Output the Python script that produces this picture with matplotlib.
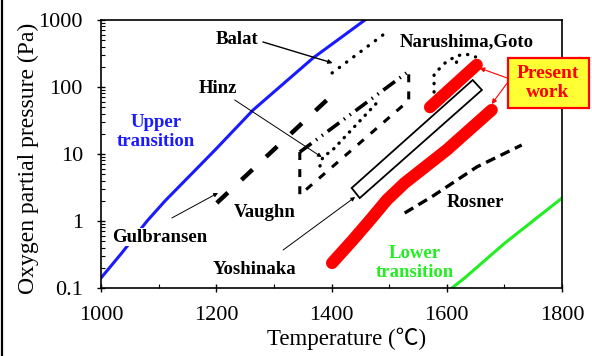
import numpy as np
import matplotlib
matplotlib.use("Agg")
import matplotlib.pyplot as plt
from matplotlib.patches import Polygon, Rectangle
from matplotlib.lines import Line2D
from matplotlib.ticker import FixedLocator, FixedFormatter, LogLocator, NullFormatter, MultipleLocator

FONT = ['Liberation Serif', 'Noto Sans CJK JP', 'DejaVu Sans']
plt.rcParams['font.family'] = FONT

# ---------------- data ----------------
x_ticks = [1000, 1200, 1400, 1600, 1800]
x_tick_labels = ['1000', '1200', '1400', '1600', '1800']
y_ticks = [0.1, 1, 10, 100, 1000]
y_tick_labels = ['0.1', '1', '10', '100', '1000']

upper_T = [1000, 1036, 1080, 1111, 1198, 1264, 1368, 1432, 1458, 1475]
upper_P = [0.141, 0.333, 1.0, 1.99, 11.5, 45.4, 271, 685, 1000, 1259]

lower_T = [1605, 1631, 1701, 1800]
lower_P = [0.094, 0.141, 0.47, 2.2]

present_low_T = [1401, 1437, 1467, 1496, 1527, 1600, 1678]
present_low_P = [0.236, 0.52, 1.035, 2.06, 3.69, 11.5, 45.4]

present_high_T = [1571, 1652]
present_high_P = [50, 214]

yoshinaka_T = [1435, 1645, 1661, 1449]
yoshinaka_P = [3.11, 127, 90.2, 2.2]

narushima_T = [1578, 1578, 1597, 1616, 1633, 1650]
narushima_P = [84.1, 156, 228, 290, 311, 281]
narushima2_T = [1617, 1614]
narushima2_P = [236, 179]

balat_T = [1401, 1496]
balat_P = [162, 661]

hinz_T = [1380, 1385, 1402, 1480]
hinz_P = [6.62, 9.0, 11.5, 59.7]

gulbransen_T = [1201, 1392]
gulbransen_P = [1.86, 64]

vaughn_T = [1345, 1345, 1531, 1534, 1534]
vaughn_P = [10.7, 2.44, 59.7, 64, 162]
vaughn_top_T = [1345, 1530]
vaughn_top_P = [10.7, 162]

rosner_T = [1527, 1576, 1652, 1730]
rosner_P = [1.315, 2.36, 6.4, 13.6]

# ---------------- figure ----------------
fig = plt.figure(figsize=(5.92, 3.56), dpi=100)
ax = fig.add_axes([101/592, 1-288/356, 461/592, 268/356])
ax.set_yscale('log')
ax.set_xlim(1000, 1800)
ax.set_ylim(0.1, 1000)

ax.plot(upper_T, upper_P, color='#1a1aff', lw=2.2, solid_joinstyle='round', zorder=2)
ax.plot(lower_T, lower_P, color='#22ee22', lw=2.2, solid_joinstyle='round', zorder=2)

ax.plot(gulbransen_T, gulbransen_P, color='black', lw=3.2,
        linestyle=(0, (3.4, 4.2)), dash_capstyle='butt', zorder=3)
ax.plot(vaughn_T, vaughn_P, color='black', lw=2.2,
        linestyle=(0, (2.6, 3.0)), zorder=3)
ax.plot(vaughn_top_T, vaughn_top_P, color='black', lw=2.6,
        linestyle=(0, (4.0, 1.6, 0.4, 1.6, 0.4, 1.6)), zorder=3)
ax.plot(hinz_T, hinz_P, color='black', lw=2.4, linestyle=(0, (0.1, 2.2)),
        dash_capstyle='round', zorder=3)
ax.plot(balat_T, balat_P, color='black', lw=2.4, linestyle=(0, (0.1, 2.6)),
        dash_capstyle='round', zorder=3)
ax.plot(narushima_T, narushima_P, color='black', lw=2.4, linestyle=(0, (0.1, 2.4)),
        dash_capstyle='round', zorder=3)
ax.plot(narushima2_T, narushima2_P, color='black', lw=2.4, linestyle=(0, (0.1, 2.4)),
        dash_capstyle='round', zorder=3)
ax.plot(rosner_T, rosner_P, color='black', lw=2.4, linestyle=(0, (3.0, 1.8)), zorder=3)

ax.add_patch(Polygon(list(zip(yoshinaka_T, yoshinaka_P)), closed=True, fill=False,
                     edgecolor='black', lw=1.3, zorder=3))

ax.plot(present_low_T, present_low_P, color='#ff0000', lw=8.8,
        solid_capstyle='round', solid_joinstyle='round', zorder=4)
ax.plot(present_high_T, present_high_P, color='#ff0000', lw=8.8,
        solid_capstyle='round', zorder=4)

# ---------------- axes styling ----------------
ax.xaxis.set_major_locator(FixedLocator(x_ticks))
ax.xaxis.set_major_formatter(FixedFormatter(x_tick_labels))
ax.xaxis.set_minor_locator(MultipleLocator(100))
ax.yaxis.set_major_locator(FixedLocator(y_ticks))
ax.yaxis.set_major_formatter(FixedFormatter(y_tick_labels))
ax.yaxis.set_minor_locator(LogLocator(base=10, subs=np.arange(2, 10)))
ax.yaxis.set_minor_formatter(NullFormatter())

ax.tick_params(which='major', direction='inout', length=6, width=1.0,
               labelsize=16, top=False, right=False)
ax.tick_params(axis='x', which='major', pad=10)
ax.tick_params(axis='y', which='major', pad=10)
ax.tick_params(which='minor', direction='in', length=3, width=0.8, top=False, right=False)
for s in ax.spines.values():
    s.set_linewidth(1.2)

ax.set_xlabel('Temperature (℃)', fontsize=16.5)
ax.xaxis.set_label_coords((347-101)/461, -(328-288)/268)
ax.set_ylabel('Oxygen partial pressure (Pa)', fontsize=17)
ax.yaxis.set_label_coords(-(101-39)/461, (288-158)/268)

# ---------------- labels ----------------
bold = dict(fontsize=13.5, fontweight='bold', ha='center', va='center', zorder=6)
white = dict(facecolor='white', edgecolor='none', pad=0.5)

ax.text(1236, 520, 'Balat', **bold)
ax.text(1203, 96.6, 'Hinz', **bold)
ax.text(1635, 470, 'Narushima,Goto', **bold)
ax.text(1095, 21.3, 'Upper\ntransition', color='#1a1aff', linespacing=1.15, **bold)
ax.text(1102, 0.577, 'Gulbransen', bbox=white, **bold)
ax.text(1284, 1.36, 'Vaughn', **bold)
ax.text(1267, 0.186, 'Yoshinaka', **bold)
ax.text(1649, 1.86, 'Rosner', **bold)
ax.text(1545, 0.236, 'Lower\ntransition', color='#22ee22', linespacing=1.2,
        bbox=white, **bold)

# "Present work" box
fig.add_artist(Rectangle((508/592, 1-108/356), 81/592, 50/356, transform=fig.transFigure,
                         facecolor='#ffff33', edgecolor='#ff0000', lw=1.6, zorder=5))
fig.text(548/592, 1-83/356, 'Present\nwork', color='#ff0000', fontsize=14,
         fontweight='bold', ha='center', va='center', linespacing=1.15, zorder=6)

lead = dict(arrowstyle='-|>', color='black', lw=0.7, mutation_scale=6, shrinkA=0, shrinkB=0)
ax.annotate('', xy=(1402, 228), xytext=(1281, 470), arrowprops=dict(lead, lw=1.0), zorder=5)
ax.annotate('', xy=(1383, 9.0), xytext=(1232, 64), arrowprops=lead, zorder=5)
ax.annotate('', xy=(1203, 2.62), xytext=(1123, 1.11), arrowprops=lead, zorder=5)
ax.annotate('', xy=(1441, 2.28), xytext=(1316, 0.369), arrowprops=lead, zorder=5)

red_lead = dict(arrowstyle='-|>', color='#ff0000', lw=0.8, mutation_scale=7, shrinkA=0, shrinkB=0)
ax.annotate('', xy=(1657, 192), xytext=(1706, 135), arrowprops=red_lead, zorder=5)
ax.annotate('', xy=(1678, 55.7), xytext=(1706, 118), arrowprops=red_lead, zorder=5)

# figure frame line on the left
fig.add_artist(Line2D([2/592, 2/592], [0, 1], transform=fig.transFigure, color='black', lw=1.6))

fig.savefig('out.png', dpi=100)
